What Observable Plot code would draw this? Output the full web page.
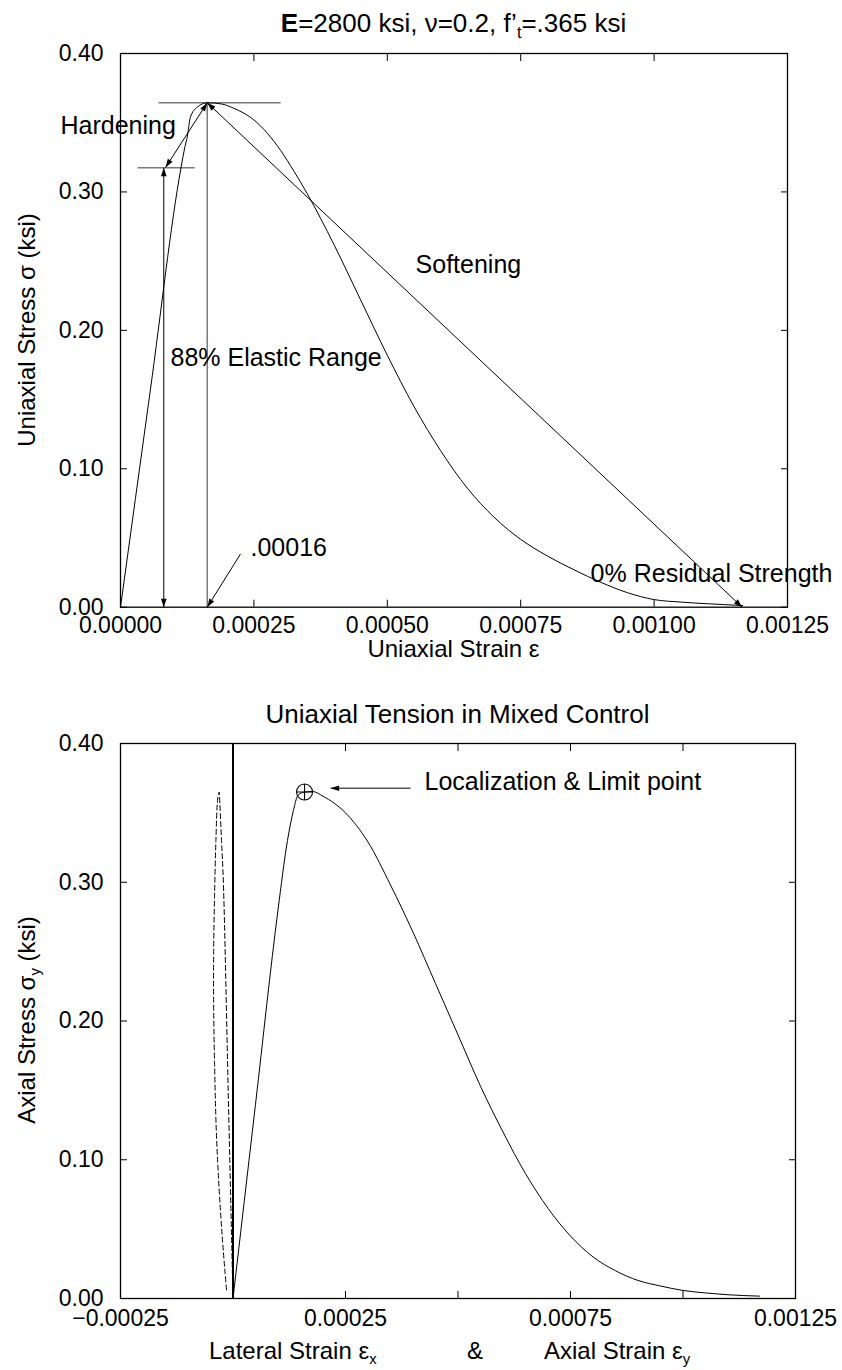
<!DOCTYPE html>
<html><head><meta charset="utf-8">
<script src="https://cdn.jsdelivr.net/npm/d3@7"></script>
<script src="https://cdn.jsdelivr.net/npm/@observablehq/plot@0.6"></script>
<style>
body{margin:0;background:#fff;font-family:"Liberation Sans",Arial,Helvetica,sans-serif;}
#wrap{position:relative;width:842px;height:1370px;overflow:hidden;background:#fff;}
#wrap svg{position:absolute;left:0;display:block;}
.lbl{position:absolute;white-space:nowrap;color:#000;line-height:1;}
.sub{font-size:0.62em;position:relative;top:0.35em;}
.rot{transform:translate(-50%,-50%) rotate(-90deg);}
</style></head><body><div id="wrap"></div>
<script>
// ---------- data ----------
const topStrain = [0, 0.000056, 0.0001134, 0.000121, 0.000125, 0.000131, 0.0001437, 0.0001626, 0.00019, 0.000212, 0.00025, 0.000275, 0.0003, 0.000325, 0.00035, 0.0004, 0.00045, 0.0005, 0.00055, 0.0006, 0.00065, 0.0007, 0.00075, 0.0008, 0.00085, 0.0009, 0.00095, 0.001, 0.00105, 0.0011, 0.001166];
const topStress = [0, 0.157, 0.3175, 0.333, 0.3395, 0.354, 0.3612, 0.3644, 0.3635, 0.3605, 0.352, 0.3425, 0.330, 0.315, 0.2987, 0.262, 0.222, 0.182, 0.145, 0.113, 0.086, 0.065, 0.049, 0.037, 0.027, 0.018, 0.0105, 0.0055, 0.0037, 0.0025, 0.0012];

const axialStrain = [0, 0.00005, 0.0001, 0.000121, 0.0001343, 0.000144, 0.000159, 0.000177, 0.0002, 0.00025, 0.0003, 0.00035, 0.0004, 0.00045, 0.0005, 0.00055, 0.0006, 0.00065, 0.0007, 0.00075, 0.0008, 0.00085, 0.0009, 0.00095, 0.001, 0.00105, 0.0011, 0.00117];
const axialStress = [0, 0.14, 0.28, 0.330, 0.3517, 0.3625, 0.365, 0.3654, 0.362, 0.350, 0.329, 0.298, 0.264, 0.227, 0.190, 0.153, 0.120, 0.090, 0.065, 0.045, 0.030, 0.020, 0.013, 0.009, 0.0058, 0.004, 0.0027, 0.0017];

const lateralStrain = [0, -0.0000107, -0.0000214, -0.0000255, -0.000029, -0.0000308, -0.000034, -0.000038, -0.000041, -0.000043, -0.000043, -0.000041, -0.000037, -0.000031, -0.000024, -0.000018, -0.000014];
const lateralStress = [0, 0.15, 0.30, 0.33, 0.355, 0.365, 0.36, 0.33, 0.29, 0.25, 0.21, 0.17, 0.12, 0.08, 0.045, 0.02, 0.005];

const topXTicks = [0, 0.00025, 0.0005, 0.00075, 0.001, 0.00125];
const yTicks = [0, 0.1, 0.2, 0.3, 0.4];
const botXTicks = [-0.00025, 0, 0.00025, 0.0005, 0.00075, 0.001, 0.00125];
const botXLabels = [-0.00025, 0.00025, 0.00075, 0.00125];

// annotation geometry (data units)
const guideLines = [
  {x1: 0.0000713, y1: 0.3644, x2: 0.0003, y2: 0.3644},
  {x1: 0.0000319, y1: 0.3174, x2: 0.000139, y2: 0.3174},
  {x1: 0.0001626, y1: 0, x2: 0.0001626, y2: 0.3644}
];
const doubleArrows = [
  {x1: 0.0000844, y1: 0.3177, x2: 0.0001626, y2: 0.3644},
  {x1: 0.0000811, y1: 0.3174, x2: 0.0000811, y2: 0},
  {x1: 0.001165, y1: 0, x2: 0.0001626, y2: 0.3644}
];
const singleArrows = [
  {x1: 0.000225, y1: 0.0385, x2: 0.0001626, y2: 0}
];
const topNotes = [
  {x: -0.0001124, y: 0.3475, text: "Hardening"},
  {x: 0.000553, y: 0.2469, text: "Softening"},
  {x: 0.0000937, y: 0.1797, text: "88% Elastic Range"},
  {x: 0.0002436, y: 0.0428, text: ".00016"},
  {x: 0.000881, y: 0.0243, text: "0% Residual Strength"}
];
const limitPoint = [{x: 0.000159, y: 0.365}];
const botArrows = [{x1: 0.0003946, y1: 0.3678, x2: 0.000217, y2: 0.3678}];
const botNotes = [{x: 0.0004257, y: 0.3726, text: "Localization & Limit point"}];

// ---------- helpers ----------
const FONT = "Liberation Sans, Arial, Helvetica, sans-serif";
function makeHead(orient) {
  return function (color, context) {
    const ns = "http://www.w3.org/2000/svg";
    const doc = (context && context.document) || document;
    const m = doc.createElementNS(ns, "marker");
    m.setAttribute("viewBox", "-9 -3.5 10 7");
    m.setAttribute("markerWidth", "10");
    m.setAttribute("markerHeight", "7");
    m.setAttribute("markerUnits", "userSpaceOnUse");
    m.setAttribute("orient", orient);
    m.setAttribute("refX", "0");
    m.setAttribute("refY", "0");
    const p = doc.createElementNS(ns, "path");
    p.setAttribute("d", "M-8.5,-2.8L0,0L-8.5,2.8Z");
    p.setAttribute("fill", color);
    p.setAttribute("stroke", "none");
    m.appendChild(p);
    return m;
  };
}
const headEnd = makeHead("auto");
const headStart = makeHead("auto-start-reverse");
const circlePlus = {
  draw(ctx, size) {
    const r = Math.sqrt(size / Math.PI);
    ctx.moveTo(r, 0); ctx.arc(0, 0, r, 0, 2 * Math.PI);
    ctx.moveTo(-r, 0); ctx.lineTo(r, 0);
    ctx.moveTo(0, -r); ctx.lineTo(0, r);
  }
};
function tickMarks(xt, yt) {
  const none = () => "";
  return [
    Plot.axisX(xt, {anchor: "bottom", tickSize: 7, dy: -7, tickFormat: none, label: null}),
    Plot.axisX(xt, {anchor: "top", tickSize: 7, dy: 7, tickFormat: none, label: null}),
    Plot.axisY(yt, {anchor: "left", tickSize: 7, dx: 7, tickFormat: none, label: null}),
    Plot.axisY(yt, {anchor: "right", tickSize: 7, dx: -7, tickFormat: none, label: null})
  ];
}
const zipXY = (xs, ys) => xs.map((x, i) => ({x, y: ys[i]}));

// ---------- top chart ----------
const chartTop = Plot.plot({
  width: 842, height: 680,
  marginTop: 53, marginLeft: 120, marginRight: 55, marginBottom: 73.3,
  style: {fontFamily: FONT, fontSize: "23px", background: "transparent", overflow: "visible"},
  x: {domain: [0, 0.00125], label: null},
  y: {domain: [0, 0.4], label: null},
  marks: [
    Plot.link(guideLines, {x1: "x1", y1: "y1", x2: "x2", y2: "y2", stroke: "#7a7a7a", strokeWidth: 1.5}),
    Plot.line(zipXY(topStrain, topStress), {x: "x", y: "y", curve: "monotone-x", stroke: "black", strokeWidth: 1}),
    Plot.link(doubleArrows, {x1: "x1", y1: "y1", x2: "x2", y2: "y2", stroke: "black", strokeWidth: 1, markerStart: headStart, markerEnd: headEnd}),
    Plot.link(singleArrows, {x1: "x1", y1: "y1", x2: "x2", y2: "y2", stroke: "black", strokeWidth: 1, markerEnd: headEnd}),
    Plot.text(topNotes, {x: "x", y: "y", text: "text", textAnchor: "start", fontSize: 25, fill: "black"}),
    ...tickMarks(topXTicks, yTicks),
    Plot.axisX(topXTicks, {anchor: "bottom", tickSize: 0, tickPadding: 9, tickFormat: d3.format(".5f"), fontSize: 23, label: null}),
    Plot.axisY(yTicks, {anchor: "left", tickSize: 0, tickPadding: 17, tickFormat: d3.format(".2f"), fontSize: 23, label: null}),
    Plot.frame({stroke: "black", strokeWidth: 1.3})
  ]
});
chartTop.style.top = "0px";

// ---------- bottom chart ----------
const chartBot = Plot.plot({
  width: 842, height: 690,
  marginTop: 63, marginLeft: 120, marginRight: 47, marginBottom: 72,
  style: {fontFamily: FONT, fontSize: "23px", background: "transparent", overflow: "visible"},
  x: {domain: [-0.00025, 0.00125], label: null},
  y: {domain: [0, 0.4], label: null},
  marks: [
    Plot.ruleX([0], {stroke: "black", strokeWidth: 2}),
    Plot.line(zipXY(lateralStrain, lateralStress), {x: "x", y: "y", curve: "catmull-rom", stroke: "black", strokeWidth: 1, strokeDasharray: "5,3"}),
    Plot.line(zipXY(axialStrain, axialStress), {x: "x", y: "y", curve: "monotone-x", stroke: "black", strokeWidth: 1}),
    Plot.dot(limitPoint, {x: "x", y: "y", r: 8, symbol: circlePlus, stroke: "black", fill: "none", strokeWidth: 1.1}),
    Plot.link(botArrows, {x1: "x1", y1: "y1", x2: "x2", y2: "y2", stroke: "black", strokeWidth: 1, markerEnd: headEnd}),
    Plot.text(botNotes, {x: "x", y: "y", text: "text", textAnchor: "start", fontSize: 25, fill: "black"}),
    ...tickMarks(botXTicks, yTicks),
    Plot.axisX(botXLabels, {anchor: "bottom", tickSize: 0, tickPadding: 11, tickFormat: d3.format(".5f"), fontSize: 23, label: null}),
    Plot.axisY(yTicks, {anchor: "left", tickSize: 0, tickPadding: 17, tickFormat: d3.format(".2f"), fontSize: 23, label: null}),
    Plot.frame({stroke: "black", strokeWidth: 1.3})
  ]
});
chartBot.style.top = "680px";

const wrap = document.getElementById("wrap");
wrap.appendChild(chartTop);
wrap.appendChild(chartBot);

// ---------- titles & axis labels (rich text) ----------
function addLabel(html, css, cls) {
  const d = document.createElement("div");
  d.className = "lbl" + (cls ? " " + cls : "");
  d.innerHTML = html;
  Object.assign(d.style, css);
  wrap.appendChild(d);
}
addLabel("<b>E</b>=2800 ksi, ν=0.2, f’<span class='sub'>t</span>=.365 ksi",
  {left: "120px", width: "667px", top: "10px", textAlign: "center", fontSize: "26px"});
addLabel("Uniaxial Strain ε", {left: "120px", width: "667px", top: "637px", textAlign: "center", fontSize: "24px"});
addLabel("Uniaxial Stress σ (ksi)", {left: "27px", top: "330px", fontSize: "24px"}, "rot");
addLabel("Uniaxial Tension in Mixed Control",
  {left: "120px", width: "675px", top: "701px", textAlign: "center", fontSize: "26px"});
addLabel("Axial Stress σ<span class='sub'>y</span> (ksi)", {left: "27px", top: "1020px", fontSize: "24px"}, "rot");
addLabel("Lateral Strain ε<span class='sub'>x</span>", {left: "209px", top: "1339px", fontSize: "24px"});
addLabel("&amp;", {left: "467px", top: "1339px", fontSize: "24px"});
addLabel("Axial Strain ε<span class='sub'>y</span>", {left: "544px", top: "1339px", fontSize: "24px"});
</script></body></html>
